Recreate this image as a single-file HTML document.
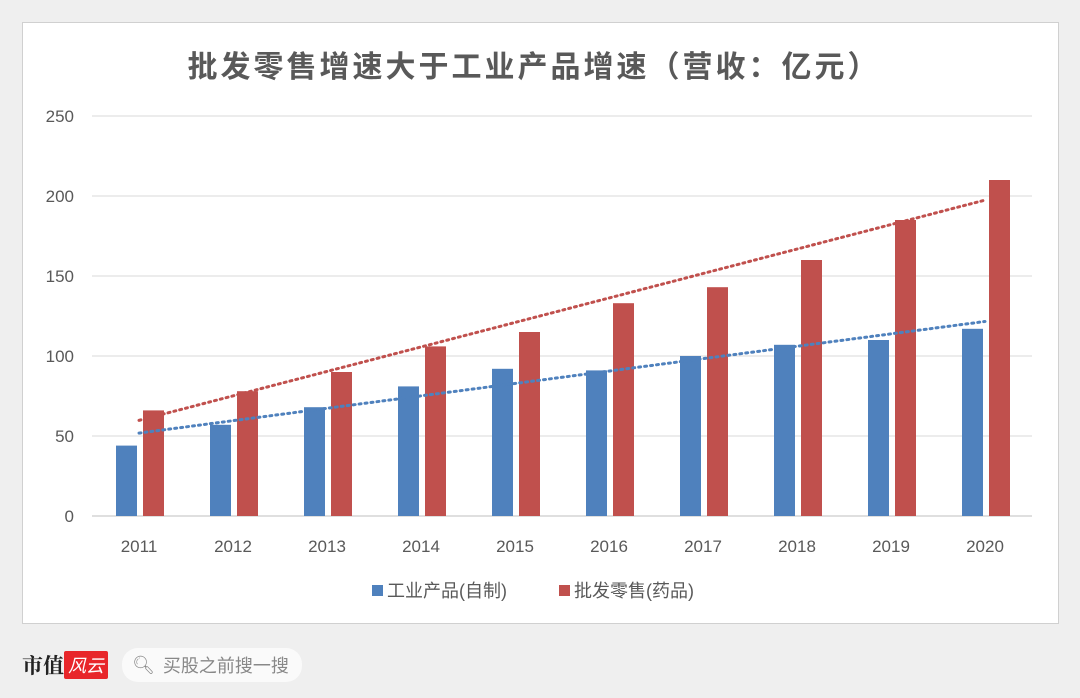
<!DOCTYPE html>
<html><head><meta charset="utf-8"><style>
body{margin:0;width:1080px;height:698px;background:#efefef;overflow:hidden;font-family:"Liberation Sans","Noto Sans CJK SC",sans-serif;}
#card{position:absolute;left:22px;top:22px;width:1035px;height:600px;background:#fff;border:1px solid #d0d0d0;}
svg{position:absolute;left:0;top:0;}
</style></head><body>
<div id="card"></div>
<svg id="chart" width="1080" height="698">
<text x="534" y="77" text-anchor="middle" font-size="30" font-weight="bold" fill="#595959" letter-spacing="3">批发零售增速大于工业产品增速（营收：亿元）</text>
</svg>
<div style="position:absolute;left:22px;top:648px;height:34px;display:flex;align-items:center;">
<span style="font-family:'Noto Serif CJK SC',serif;font-weight:bold;font-size:21px;color:#222;">市值</span><span style="background:#e8262a;color:#fff;font-size:18px;padding:1px 4px;font-style:italic;border-radius:2px;">风云</span>
<div style="margin-left:14px;background:#fafafa;border-radius:16px;height:34px;width:180px;display:flex;align-items:center;font-size:18px;color:#888;">
<span style="margin:0 8px 0 10px;font-size:18px;">&#x1F50D;&#xFE0E;</span>买股之前搜一搜</div>
</div>
<script>
const categories=["2011","2012","2013","2014","2015","2016","2017","2018","2019","2020"];
const industrial=[44,57,68,81,92,91,100,107,110,117];
const wholesale=[66,78,90,106,115,133,143,160,185,210];
const yTicks=[0,50,100,150,200,250];
const NS="http://www.w3.org/2000/svg";
const svg=document.getElementById('chart');
const x0=92,x1=1032,y0=516,y1=116,yMax=250;
const band=(x1-x0)/categories.length;
const ys=v=>y0-(v/yMax)*(y0-y1);
const xc=i=>x0+band*(i+0.5)+3;
function mk(t,a){const e=document.createElementNS(NS,t);for(const k in a)e.setAttribute(k,a[k]);svg.appendChild(e);return e;}
yTicks.forEach(t=>{
 const l=mk('line',{x1:x0,x2:x1,y1:ys(t),y2:ys(t),stroke:t===0?'#bfbfbf':'#d9d9d9','stroke-width':1});
 
 
 const tx=mk('text',{x:74,y:ys(t)+6,'text-anchor':'end','font-size':17,fill:'#595959'});tx.textContent=t;
 
 
});
const bw=21;
categories.forEach((c,i)=>{
 const b=mk('rect',{x:xc(i)-bw-5,y:ys(industrial[i]),width:bw,height:y0-ys(industrial[i]),fill:'#4f81bd'});
 
 
 const r=mk('rect',{x:xc(i)+1,y:ys(wholesale[i]),width:bw,height:y0-ys(wholesale[i]),fill:'#c0504d'});
 
 
 const t=mk('text',{x:xc(i)-3,y:552,'text-anchor':'middle','font-size':17,fill:'#595959'});t.textContent=c;
 
 
});
function trend(arr,color,dx,name){
 const n=arr.length,mx=(n-1)/2,my=arr.reduce((a,b)=>a+b,0)/n;
 let sxy=0,sxx=0;arr.forEach((v,i)=>{sxy+=(i-mx)*(v-my);sxx+=(i-mx)*(i-mx);});
 const s=sxy/sxx,b=my-s*mx;
 const l=mk('line',{x1:xc(0)+dx,y1:ys(b),x2:xc(n-1)+dx,y2:ys(b+s*(n-1)),stroke:color,'stroke-width':3,'stroke-dasharray':'2 4','stroke-linecap':'round'});
 
 
}
trend(industrial,'#4f81bd',-3,'trendline-industrial');
trend(wholesale,'#c0504d',-3,'trendline-wholesale');
[['#4f81bd','工业产品(自制)',372],['#c0504d','批发零售(药品)',559]].forEach((L,k)=>{
 const r=mk('rect',{x:L[2],y:585,width:11,height:11,fill:L[0]});
 
 
 const t=mk('text',{x:L[2]+15,y:597,'font-size':18,fill:'#595959'});t.textContent=L[1];
 
 
});
</script>
</body></html>
